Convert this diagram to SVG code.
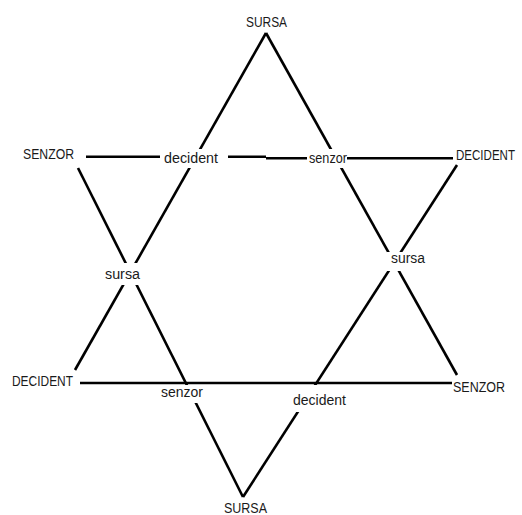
<svg xmlns="http://www.w3.org/2000/svg" width="522" height="515" viewBox="0 0 522 515">
  <style>
    .edge { stroke: #000; stroke-width: 2.6; fill: none; stroke-linecap: butt; }
    .lbl { font-family: "Liberation Sans", Arial, sans-serif; font-size: 14px; fill: #1a1a1a; }
    .bg { fill: #fff; stroke: none; }
  </style>
  <rect width="522" height="515" fill="#fff"/>
  <g id="connectors">
    <line class="edge" x1="266" y1="33" x2="75" y2="370"/>
    <line class="edge" x1="266" y1="33" x2="457" y2="375"/>
    <line class="edge" x1="80" y1="383" x2="452" y2="383"/>
    <line class="edge" x1="243" y1="497" x2="78" y2="168"/>
    <line class="edge" x1="243" y1="497" x2="457" y2="165"/>
    <line class="edge" x1="86" y1="156.8" x2="266" y2="156.8"/>
    <line class="edge" x1="266" y1="158.2" x2="453" y2="158.2"/>
  </g>
  <g id="sursa-top">
    <text class="lbl" x="246" y="27" textLength="41" lengthAdjust="spacingAndGlyphs">SURSA</text>
  </g>
  <g id="senzor-left">
    <text class="lbl" x="23" y="159" textLength="51" lengthAdjust="spacingAndGlyphs">SENZOR</text>
  </g>
  <g id="decident-right">
    <text class="lbl" x="456" y="160" textLength="59" lengthAdjust="spacingAndGlyphs">DECIDENT</text>
  </g>
  <g id="decident-top">
    <rect class="bg" x="160" y="149" width="68" height="19"/>
    <text class="lbl" x="164" y="163" textLength="54" lengthAdjust="spacingAndGlyphs">decident</text>
  </g>
  <g id="senzor-top">
    <rect class="bg" x="307" y="149" width="40" height="19"/>
    <text class="lbl" x="309" y="163" textLength="38" lengthAdjust="spacingAndGlyphs">senzor</text>
  </g>
  <g id="sursa-left">
    <rect class="bg" x="104" y="263" width="37" height="22"/>
    <text class="lbl" x="105" y="279" textLength="35" lengthAdjust="spacingAndGlyphs">sursa</text>
  </g>
  <g id="sursa-right">
    <rect class="bg" x="387" y="252" width="41" height="19"/>
    <text class="lbl" x="391" y="263" textLength="34" lengthAdjust="spacingAndGlyphs">sursa</text>
  </g>
  <g id="decident-left">
    <text class="lbl" x="12" y="386" textLength="61" lengthAdjust="spacingAndGlyphs">DECIDENT</text>
  </g>
  <g id="senzor-bottom">
    <rect class="bg" x="160" y="385" width="45" height="18"/>
    <text class="lbl" x="161" y="397" textLength="42" lengthAdjust="spacingAndGlyphs">senzor</text>
  </g>
  <g id="decident-bottom">
    <rect class="bg" x="290" y="385" width="59" height="27"/>
    <text class="lbl" x="293" y="405" textLength="53" lengthAdjust="spacingAndGlyphs">decident</text>
  </g>
  <g id="senzor-right">
    <text class="lbl" x="453" y="392" textLength="52" lengthAdjust="spacingAndGlyphs">SENZOR</text>
  </g>
  <g id="sursa-bottom">
    <text class="lbl" x="224" y="513" textLength="43" lengthAdjust="spacingAndGlyphs">SURSA</text>
  </g>
</svg>
